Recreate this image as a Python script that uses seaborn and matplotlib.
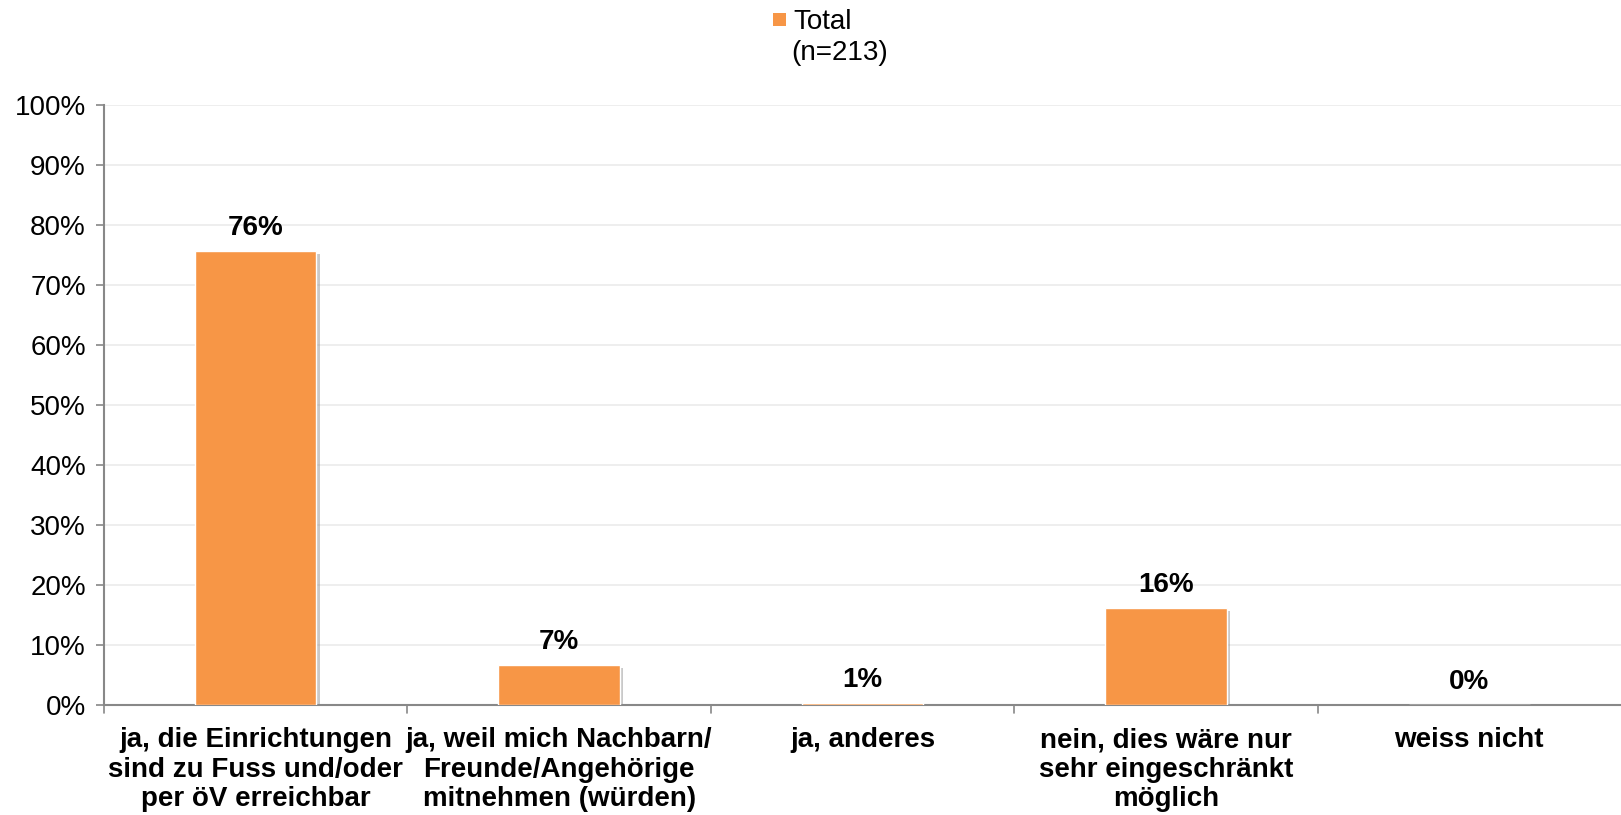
import matplotlib
matplotlib.use("Agg")
import matplotlib.pyplot as plt
import matplotlib.patheffects as pe
import seaborn as sns
import pandas as pd
from matplotlib.patches import Rectangle

categories = [
    "ja, die Einrichtungen\nsind zu Fuss und/oder\nper öV erreichbar",
    "ja, weil mich Nachbarn/\nFreunde/Angehörige\nmitnehmen (würden)",
    "ja, anderes",
    "nein, dies wäre nur\nsehr eingeschränkt\nmöglich",
    "weiss nicht",
]
values = [75.7, 6.7, 0.4, 16.2, 0.0]
value_labels = ["76%", "7%", "1%", "16%", "0%"]
yticks = list(range(0, 101, 10))
series_name = "Total"
series_n = "(n=213)"

sns.set_theme(style="white")
plt.rcParams["font.family"] = ["Liberation Sans", "DejaVu Sans"]

df = pd.DataFrame({"cat": categories, "val": values})
color = "#F79646"
W, H = 1621, 815

fig = plt.figure(figsize=(W / 100, H / 100), dpi=100)
ax = fig.add_axes([104 / W, 1 - 705 / H, (W - 104) / W, (705 - 105) / H])

sns.barplot(data=df, x="cat", y="val", color=color, width=0.4, ax=ax,
            saturation=1, zorder=3)
for p in ax.patches:
    p.set_path_effects([pe.SimplePatchShadow(offset=(2.5, -2), shadow_rgbFace="#888888", alpha=0.45), pe.Normal()])

ax.set_ylim(0, 100)
ax.set_xlim(-0.5, 4.5)
ax.set_yticks(yticks)
ax.set_yticklabels([f"{t}%" for t in yticks], fontsize=20, color="#000000")
ax.set_xlabel("")
ax.set_ylabel("")
ax.set_xticks(range(len(categories)))
ax.set_xticklabels(categories, fontsize=20, fontweight="bold", color="#000000", linespacing=1.17)
ax.tick_params(axis="x", length=0, pad=16)
ax.tick_params(axis="y", length=6, width=1.2, color="#888888", left=True, pad=7)

for b in [-0.5, 0.5, 1.5, 2.5, 3.5]:
    ax.plot([b, b], [0, -1.4], color="#888888", lw=1.2, clip_on=False, zorder=5)

ax.grid(axis="y", color="#EBEBEB", lw=1.2, zorder=0)
ax.set_axisbelow(True)
for s in ["top", "right"]:
    ax.spines[s].set_visible(False)
for s in ["left", "bottom"]:
    ax.spines[s].set_color("#888888")
    ax.spines[s].set_linewidth(1.5)

for i, (v, lab) in enumerate(zip(values, value_labels)):
    ax.text(i, v + 1.6, lab, ha="center", va="bottom", fontsize=20, fontweight="bold", color="#000000")

# legend (marker aligned with first line, as in reference)
fig.patches.append(Rectangle((773 / W, 1 - 26 / H), 13 / W, 13 / H, transform=fig.transFigure,
                             facecolor=color, edgecolor="none"))
fig.text(793 / W, 1 - 22 / H, series_name, ha="left", va="center", fontsize=20, color="#000000")
fig.text(791 / W, 1 - 53 / H, series_n, ha="left", va="center", fontsize=20, color="#000000")

fig.savefig("out.png", dpi=100)
